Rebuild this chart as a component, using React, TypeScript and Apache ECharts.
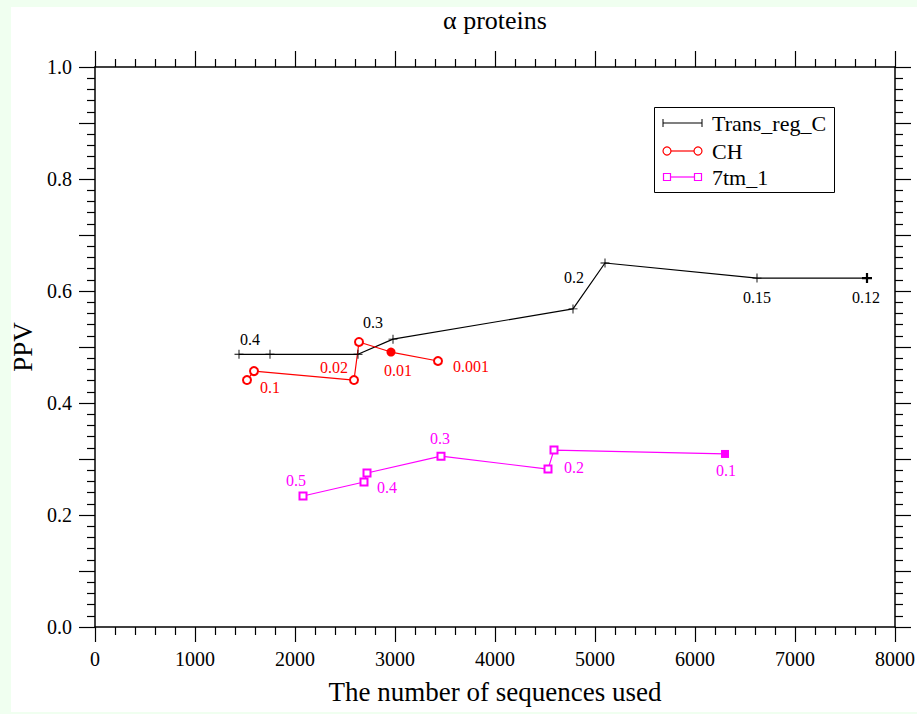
import React, { useEffect, useRef } from 'react';
import * as echarts from 'echarts';

const FONT = 'Liberation Serif';
const titleText = 'α proteins';
const xName = 'The number of sequences used';
const yName = 'PPV';
const seriesNames = ['Trans_reg_C', 'CH', '7tm_1'];

// Trans_reg_C
const transX = [1440, 1750, 2630, 2980, 4780, 5100, 6620, 7720];
const transY = [0.487, 0.487, 0.487, 0.514, 0.568, 0.65, 0.623, 0.623];
const transLabels = ['0.4', '', '0.3', '', '', '0.2', '0.15', '0.12'];
// CH
const chX = [1520, 1590, 2590, 2640, 2960, 3430];
const chY = [0.441, 0.457, 0.441, 0.509, 0.491, 0.475];
const chLabels = ['', '0.1', '0.02', '', '0.01', '0.001'];
// 7tm_1
const tmX = [2080, 2690, 2720, 3460, 4530, 4590, 6300];
const tmY = [0.234, 0.259, 0.275, 0.305, 0.282, 0.316, 0.309];
const tmLabels = ['0.5', '0.4', '', '0.3', '0.2', '', '0.1'];

// filled (highlighted) points
const transFilled = [7];
const chFilled = [4];
const tmFilled = [6];

// label offsets (style only)
const transOffsets = [[11, -15], [0, 0], [15, -32], [0, 0], [0, 0], [-31, 14], [0, 19], [-1, 19]];
const chOffsets = [[0, 0], [16, 16], [-20, -13], [0, 0], [7, 18], [33, 5]];
const tmOffsets = [[-7, -15], [23, 6], [0, 0], [-1, -18], [26, -2], [0, 0], [1, 17]];

const PLUS = 'path://M-0.5,-5H0.5V-0.5H5V0.5H0.5V5H-0.5V0.5H-5V-0.5H-0.5Z';
const PLUS_BOLD = 'path://M-1.1,-5H1.1V-1.1H5V1.1H1.1V5H-1.1V1.1H-5V-1.1H-1.1Z';

function buildData(xs: number[], ys: number[], labels: string[], offsets: number[][], filled: number[], color: string, emptySym: string, fullSym: string, size: number, fullSize: number) {
  return xs.map((x, i) => {
    const isFilled = filled.includes(i);
    const item: any = {
      value: [x, ys[i]],
      symbol: isFilled ? fullSym : emptySym,
      symbolSize: isFilled ? fullSize : size,
    };
    if (labels[i]) {
      item.label = {
        show: true,
        formatter: labels[i],
        position: 'inside',
        offset: offsets[i],
        color,
        fontFamily: FONT,
        fontSize: 16,
        align: 'center',
        verticalAlign: 'middle',
      };
    } else {
      item.label = { show: false };
    }
    return item;
  });
}

export default function App() {
  const ref = useRef<HTMLDivElement>(null);
  useEffect(() => {
    if (!ref.current) return;
    const chart = echarts.init(ref.current, null, { renderer: 'svg' });

    const cv = document.createElement('canvas').getContext('2d');
    let tw = 110;
    if (cv) {
      cv.font = `26px "${FONT}"`;
      tw = cv.measureText(titleText).width;
    }
    const gridLeft = 95, gridTop = 67, gridW = 800, gridH = 560;
    const centerX = gridLeft + gridW / 2;

    const axisLine = { show: true, onZero: false, lineStyle: { color: '#000', width: 1.5 } };
    const tickStyle = { color: '#000', width: 1.2 };
    const nameStyle = { color: '#000', fontFamily: FONT, fontSize: 27 };

    const lx = 663, lx2 = 702, ltx = 712;
    const ly = [123, 151, 177];

    chart.setOption({
      animation: false,
      backgroundColor: 'transparent',
      title: {
        text: titleText,
        left: centerX - tw / 2,
        top: 7,
        padding: 0,
        textStyle: { color: '#000', fontFamily: FONT, fontSize: 26, fontWeight: 'normal' },
      },
      grid: { left: gridLeft, top: gridTop, width: gridW, height: gridH, containLabel: false, outerBoundsMode: 'none' },
      xAxis: [
        {
          type: 'value', min: 0, max: 8000, interval: 1000, position: 'bottom',
          axisLine, axisTick: { show: true, length: 15, lineStyle: tickStyle },
          minorTick: { show: true, splitNumber: 5, length: 8, lineStyle: tickStyle },
          axisLabel: { color: '#000', fontFamily: FONT, fontSize: 20, margin: 22, formatter: (v: number) => String(Math.round(v)) },
          splitLine: { show: false },
          name: xName, nameLocation: 'middle', nameGap: 51, nameTextStyle: nameStyle,
        },
        {
          type: 'value', min: 0, max: 8000, interval: 1000, position: 'top',
          axisLine, axisTick: { show: true, length: 16, lineStyle: tickStyle },
          minorTick: { show: true, splitNumber: 5, length: 8, lineStyle: tickStyle },
          axisLabel: { show: false }, splitLine: { show: false },
        },
      ],
      yAxis: [
        {
          type: 'value', min: 0, max: 1, interval: 0.1, position: 'left',
          axisLine, axisTick: { show: true, length: 16, lineStyle: tickStyle },
          minorTick: { show: true, splitNumber: 5, length: 8, lineStyle: tickStyle },
          axisLabel: {
            color: '#000', fontFamily: FONT, fontSize: 20, margin: 23,
            formatter: (v: number) => { const k = Math.round(v * 10); return k % 2 === 0 ? (k / 10).toFixed(1) : ''; },
          },
          splitLine: { show: false },
          name: yName, nameLocation: 'middle', nameGap: 56, nameRotate: 90, nameTextStyle: nameStyle,
        },
        {
          type: 'value', min: 0, max: 1, interval: 0.1, position: 'right',
          axisLine, axisTick: { show: true, length: 16, lineStyle: tickStyle },
          minorTick: { show: true, splitNumber: 5, length: 8, lineStyle: tickStyle },
          axisLabel: { show: false }, splitLine: { show: false },
        },
      ],
      series: [
        {
          name: seriesNames[0], type: 'line', xAxisIndex: 0, yAxisIndex: 0,
          data: buildData(transX, transY, transLabels, transOffsets, transFilled, '#000', PLUS, PLUS_BOLD, 9, 10),
          lineStyle: { color: '#000', width: 1.2 }, itemStyle: { color: '#000' },
          showAllSymbol: true,
        },
        {
          name: seriesNames[1], type: 'line', xAxisIndex: 0, yAxisIndex: 0,
          data: buildData(chX, chY, chLabels, chOffsets, chFilled, '#ff0000', 'emptyCircle', 'circle', 8, 9),
          lineStyle: { color: '#ff0000', width: 1.2 }, itemStyle: { color: '#ff0000', borderWidth: 1.2 },
          showAllSymbol: true,
        },
        {
          name: seriesNames[2], type: 'line', xAxisIndex: 0, yAxisIndex: 0,
          data: buildData(tmX, tmY, tmLabels, tmOffsets, tmFilled, '#ff00ff', 'emptyRect', 'rect', 7, 8),
          lineStyle: { color: '#ff00ff', width: 1.2 }, itemStyle: { color: '#ff00ff', borderWidth: 1.2 },
          showAllSymbol: true,
        },
      ],
      graphic: [
        { type: 'rect', z: 10, shape: { x: 654.5, y: 107.5, width: 180, height: 85 }, style: { fill: '#fff', stroke: '#000', lineWidth: 1 } },
        // Trans_reg_C
        { type: 'line', z: 11, shape: { x1: lx, y1: ly[0], x2: lx2, y2: ly[0] }, style: { stroke: '#000', lineWidth: 1.2 } },
        { type: 'line', z: 11, shape: { x1: lx, y1: ly[0] - 4, x2: lx, y2: ly[0] + 4 }, style: { stroke: '#000', lineWidth: 1 } },
        { type: 'line', z: 11, shape: { x1: lx2, y1: ly[0] - 4, x2: lx2, y2: ly[0] + 4 }, style: { stroke: '#000', lineWidth: 1 } },
        { type: 'text', z: 11, x: ltx, y: ly[0], style: { text: seriesNames[0], fill: '#000', font: `22px "${FONT}"`, verticalAlign: 'middle' } },
        // CH
        { type: 'line', z: 11, shape: { x1: lx + 4, y1: ly[1], x2: lx2 - 4, y2: ly[1] }, style: { stroke: '#ff0000', lineWidth: 1.2 } },
        { type: 'circle', z: 11, shape: { cx: lx + 4, cy: ly[1], r: 4 }, style: { fill: '#fff', stroke: '#ff0000', lineWidth: 1.2 } },
        { type: 'circle', z: 11, shape: { cx: lx2 - 4, cy: ly[1], r: 4 }, style: { fill: '#fff', stroke: '#ff0000', lineWidth: 1.2 } },
        { type: 'text', z: 11, x: ltx, y: ly[1], style: { text: seriesNames[1], fill: '#000', font: `22px "${FONT}"`, verticalAlign: 'middle' } },
        // 7tm_1
        { type: 'line', z: 11, shape: { x1: lx + 4, y1: ly[2], x2: lx2 - 4, y2: ly[2] }, style: { stroke: '#ff00ff', lineWidth: 1.2 } },
        { type: 'rect', z: 11, shape: { x: lx + 0.5, y: ly[2] - 3.5, width: 7, height: 7 }, style: { fill: '#fff', stroke: '#ff00ff', lineWidth: 1.2 } },
        { type: 'rect', z: 11, shape: { x: lx2 - 7.5, y: ly[2] - 3.5, width: 7, height: 7 }, style: { fill: '#fff', stroke: '#ff00ff', lineWidth: 1.2 } },
        { type: 'text', z: 11, x: ltx, y: ly[2], style: { text: seriesNames[2], fill: '#000', font: `22px "${FONT}"`, verticalAlign: 'middle' } },
      ],
    });
    return () => chart.dispose();
  }, []);

  return (
    <div style={{ position: 'fixed', left: 0, top: 0, width: 917, height: 714, background: '#f0fff0' }}>
      <div style={{ position: 'absolute', left: 11, top: 7, width: 906, height: 705, background: '#fff' }} />
      <div ref={ref} style={{ position: 'absolute', left: 0, top: 0, width: 917, height: 714 }} />
    </div>
  );
}
